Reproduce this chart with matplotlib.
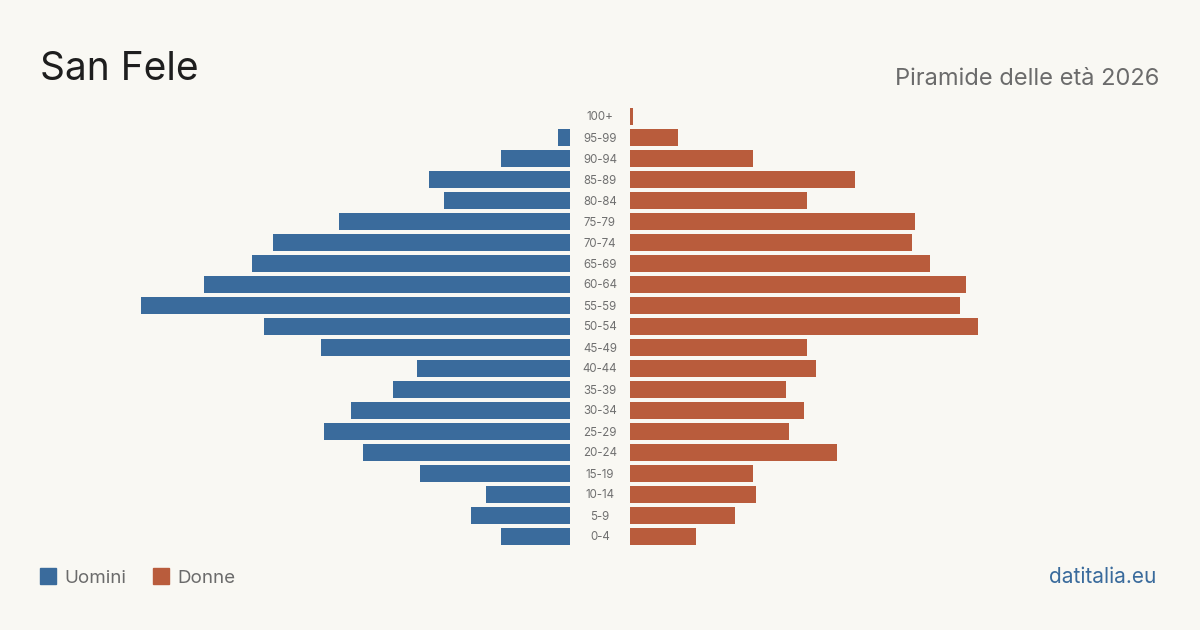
import matplotlib.pyplot as plt
from matplotlib.patches import Rectangle

# age classes, from youngest to oldest
ages = ['0-4', '5-9', '10-14', '15-19', '20-24', '25-29', '30-34', '35-39',
        '40-44', '45-49', '50-54', '55-59', '60-64', '65-69', '70-74',
        '75-79', '80-84', '85-89', '90-94', '95-99', '100+']
uomini = [23, 33, 28, 50, 69, 82, 73, 59, 51, 83, 102, 143, 122, 106, 99,
          77, 42, 47, 23, 4, 0]
donne = [22, 35, 42, 41, 69, 53, 58, 52, 62, 59, 116, 110, 112, 100, 94,
         95, 59, 75, 41, 16, 1]

BG = '#f9f8f3'
BLUE = '#3a6b9c'
RED = '#b95c3c'
GREY = '#6b6b6b'
plt.rcParams['font.family'] = ['Inter', 'DejaVu Sans']

W, H = 1200, 630
fig = plt.figure(figsize=(12, 6.3), dpi=100, facecolor=BG)

px = 3.0  # pixels per person
top, bot = 106, 547
y0 = 1 - bot / H
hh = (bot - top) / H

axl = fig.add_axes([100 / W, y0, 470 / W, hh])
axr = fig.add_axes([630 / W, y0, 470 / W, hh])
pos = range(len(ages))
axl.barh(pos, uomini, height=0.81, color=BLUE)
axr.barh(pos, donne, height=0.81, color=RED)
axl.set_xlim(470 / px, 0)
axr.set_xlim(0, 470 / px)
for ax in (axl, axr):
    ax.set_ylim(-0.5, len(ages) - 0.5)
    ax.axis('off')

# age labels in the middle gap
for i, a in enumerate(ages):
    yy = y0 + hh * (i + 0.5) / len(ages)
    fig.text(600 / W, yy - 1 / H, a, ha='center', va='center', fontsize=8.3, color='#707070')

fig.text(40 / W, 1 - 80 / H, 'San Fele', fontsize=28, color='#1e1e1e', va='baseline')
fig.text(1159 / W, 1 - 85 / H, 'Piramide delle età 2026', fontsize=17,
         color=GREY, ha='right', va='baseline')

# legend
for x, c, lab in [(40, BLUE, 'Uomini'), (153, RED, 'Donne')]:
    fig.patches.append(Rectangle((x / W, 1 - 584 / H), 16 / W, 16 / H,
                                 transform=fig.transFigure, color=c))
    fig.text((x + 24) / W, 1 - 583 / H, lab, fontsize=13.5, color=GREY, va='baseline')

fig.text(1156 / W, 1 - 583 / H, 'datitalia.eu', fontsize=15, color=BLUE,
         ha='right', va='baseline')

fig.savefig('out.png', dpi=100, facecolor=BG)
